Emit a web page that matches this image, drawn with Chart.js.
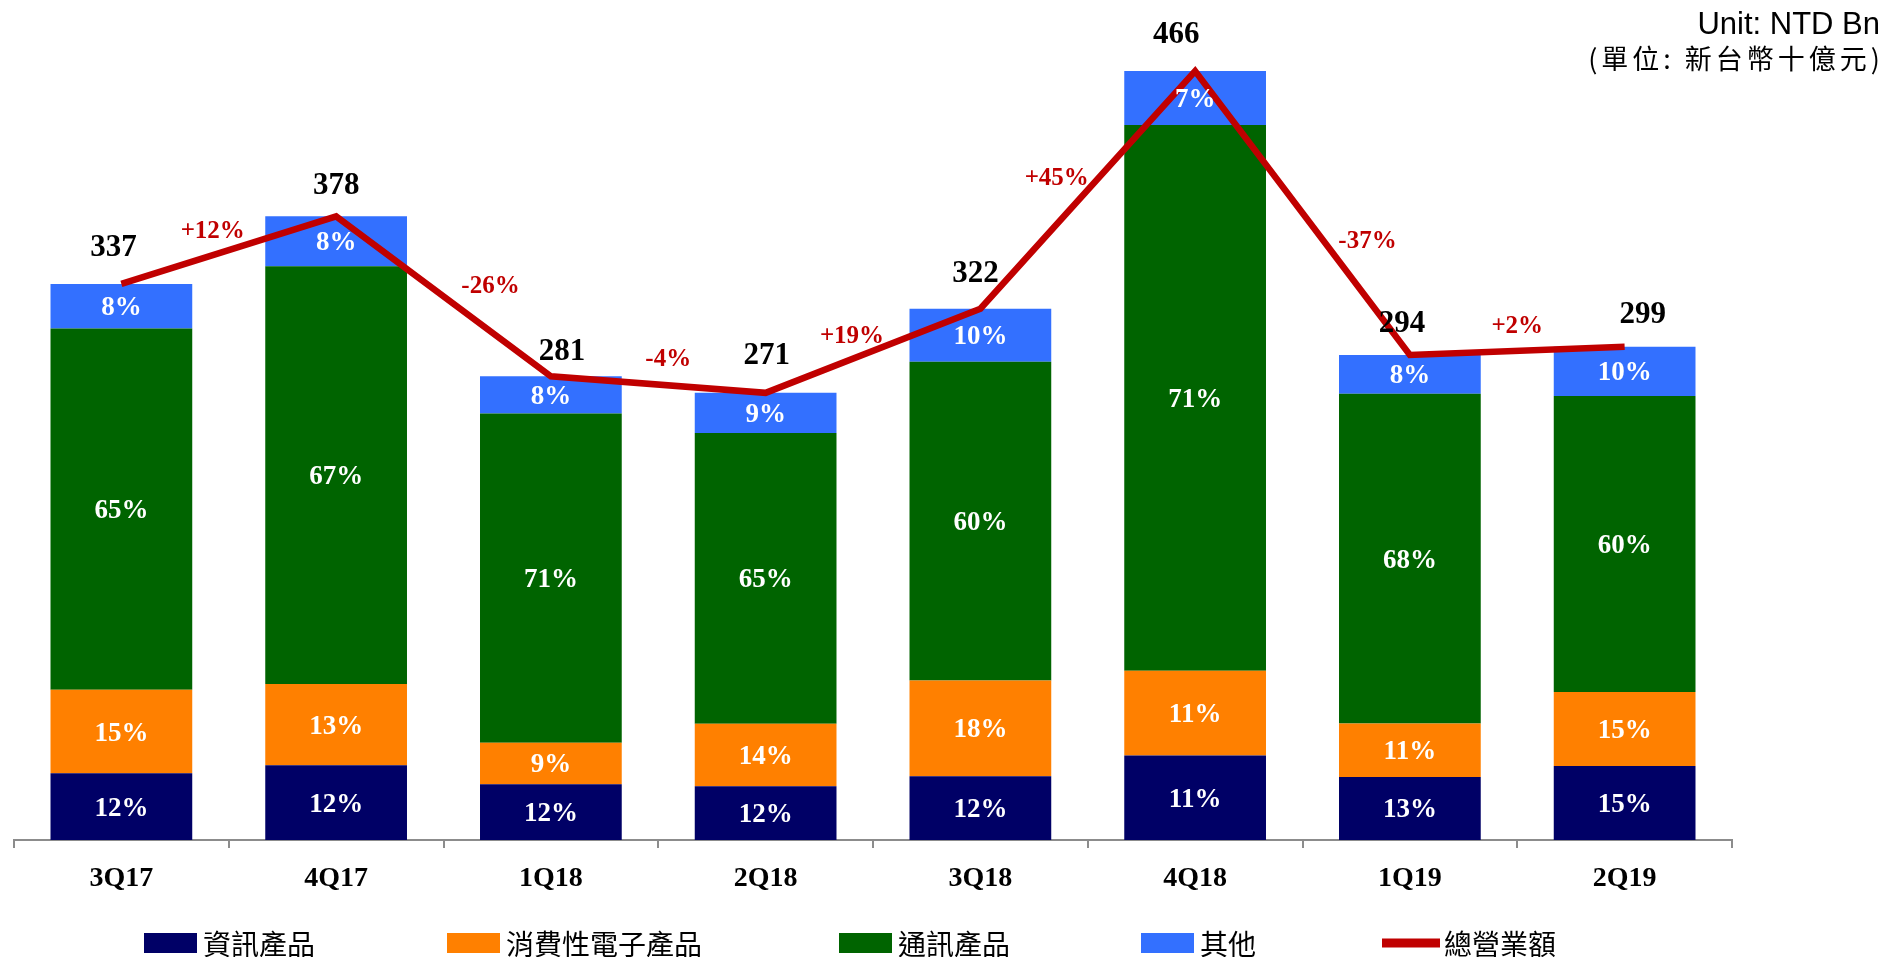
<!DOCTYPE html>
<html>
<head>
<meta charset="utf-8">
<script src="https://cdn.jsdelivr.net/npm/chart.js@4"></script>
<style>
  html, body { margin: 0; padding: 0; background: #fff; }
  canvas { display: block; }
</style>
</head>
<body>
<canvas id="chart_1" width="1886" height="957"></canvas>
<script>
const quarters = ['3Q17', '4Q17', '1Q18', '2Q18', '3Q18', '4Q18', '1Q19', '2Q19'];
const totalRevenue = [337, 378, 281, 271, 322, 466, 294, 299];
const infoShare = [12, 12, 12, 12, 12, 11, 13, 15];
const consumerShare = [15, 13, 9, 14, 18, 11, 11, 15];
const commShare = [65, 67, 71, 65, 60, 71, 68, 60];
const otherShare = [8, 8, 8, 9, 10, 7, 8, 10];
const growthLabels = ['+12%', '-26%', '-4%', '+19%', '+45%', '-37%', '+2%'];

const serif = '"Liberation Serif", "DejaVu Serif", serif';
const cjk = '"Noto Sans CJK TC", "Noto Sans CJK SC", sans-serif';

// segment height = share of the quarter total
const part = share => share.map((p, i) => totalRevenue[i] * p / 100);

// hand nudges so the labels sit where the slide had them
const totalNudge = [[-8, -36], [0, -30], [11, -24], [1, -37], [-5, -35], [-19, -36], [-8, -31], [18, -32]];
const growthNudge = [[-16, -19], [47, -10], [10, -25], [-21, -14], [-31, -11], [65, 29], [0, -24]];
const legendX = [144, 447, 839, 1141, 1382];

const valueLabels = {
  id: 'valueLabels',
  afterDatasetsDraw(chart) {
    const { ctx } = chart;
    ctx.save();
    ctx.textAlign = 'center';
    ctx.textBaseline = 'middle';

    ctx.fillStyle = '#fff';
    ctx.font = 'bold 27px ' + serif;
    for (let d = 0; d < 4; d++) {
      const shares = chart.data.datasets[d].shares;
      chart.getDatasetMeta(d).data.forEach((bar, i) => {
        ctx.fillText(shares[i] + '%', bar.x, (bar.y + bar.base) / 2 + 2);
      });
    }

    const pts = chart.getDatasetMeta(4).data;
    ctx.fillStyle = '#000';
    ctx.font = 'bold 31px ' + serif;
    pts.forEach((p, i) => {
      ctx.fillText(totalRevenue[i], p.x + totalNudge[i][0], p.y + totalNudge[i][1]);
    });

    ctx.fillStyle = '#C00000';
    ctx.font = 'bold 25px ' + serif;
    growthLabels.forEach((g, i) => {
      const a = pts[i], b = pts[i + 1];
      ctx.fillText(g, (a.x + b.x) / 2 + growthNudge[i][0], (a.y + b.y) / 2 + growthNudge[i][1]);
    });
    ctx.restore();
  },
  afterDraw(chart) {
    const { ctx } = chart;
    ctx.save();
    // legend row
    const y = 943;
    ctx.textAlign = 'left';
    ctx.textBaseline = 'middle';
    chart.data.datasets.forEach((ds, i) => {
      const x = legendX[i];
      let tx;
      if (ds.type === 'line') {
        ctx.fillStyle = ds.borderColor;
        ctx.fillRect(x, y - 4.5, 58, 9);
        tx = x + 62;
      } else {
        ctx.fillStyle = ds.backgroundColor;
        ctx.fillRect(x, y - 10, 53, 20);
        tx = x + 59;
      }
      ctx.fillStyle = '#000';
      ctx.font = '28px ' + cjk;
      ctx.fillText(ds.label, tx, y + 1);
    });

    // unit note, top right
    ctx.textAlign = 'right';
    ctx.font = '31px "Liberation Sans", Arial, sans-serif';
    ctx.fillText('Unit: NTD Bn', 1880, 25);
    ctx.font = '27px ' + cjk;
    ctx.letterSpacing = '4px';
    ctx.fillText('(單位: 新台幣十億元)', 1884, 59);
    ctx.restore();
  }
};

const chartData = {
  labels: quarters,
  datasets: [
    { label: '資訊產品', data: part(infoShare), shares: infoShare, backgroundColor: '#000066', stack: 'bars', order: 1 },
    { label: '消費性電子產品', data: part(consumerShare), shares: consumerShare, backgroundColor: '#FF8000', stack: 'bars', order: 1 },
    { label: '通訊產品', data: part(commShare), shares: commShare, backgroundColor: '#006400', stack: 'bars', order: 1 },
    { label: '其他', data: part(otherShare), shares: otherShare, backgroundColor: '#3370FF', stack: 'bars', order: 1 },
    {
      type: 'line', label: '總營業額', data: totalRevenue, stack: 'line', order: 0,
      borderColor: '#C00000', backgroundColor: '#C00000', borderWidth: 6.5,
      pointRadius: 0, tension: 0, fill: false, clip: false, borderJoinStyle: 'miter'
    }
  ]
};

const config = {
  type: 'bar',
  data: chartData,
  options: {
    responsive: false,
    animation: false,
    devicePixelRatio: 1,
    barPercentage: 0.66,
    categoryPercentage: 1,
    layout: { padding: { top: 15, left: 14, right: 154, bottom: 0 } },
    plugins: {
      legend: { display: false },
      tooltip: { enabled: false }
    },
    scales: {
      x: {
        stacked: true,
        grid: { offset: true, drawOnChartArea: false, drawTicks: true, tickLength: 8, color: '#8c8c8c', lineWidth: 2 },
        border: { color: '#8c8c8c', width: 2 },
        ticks: { color: '#000', padding: 14, font: { family: serif, size: 28, weight: 'bold' } },
        afterFit(s) { s.height = 117; }
      },
      y: { display: false, stacked: true, min: 0, max: 500 }
    }
  },
  plugins: [valueLabels]
};

const chart_1 = new Chart(document.getElementById('chart_1'), config);
</script>
</body>
</html>
